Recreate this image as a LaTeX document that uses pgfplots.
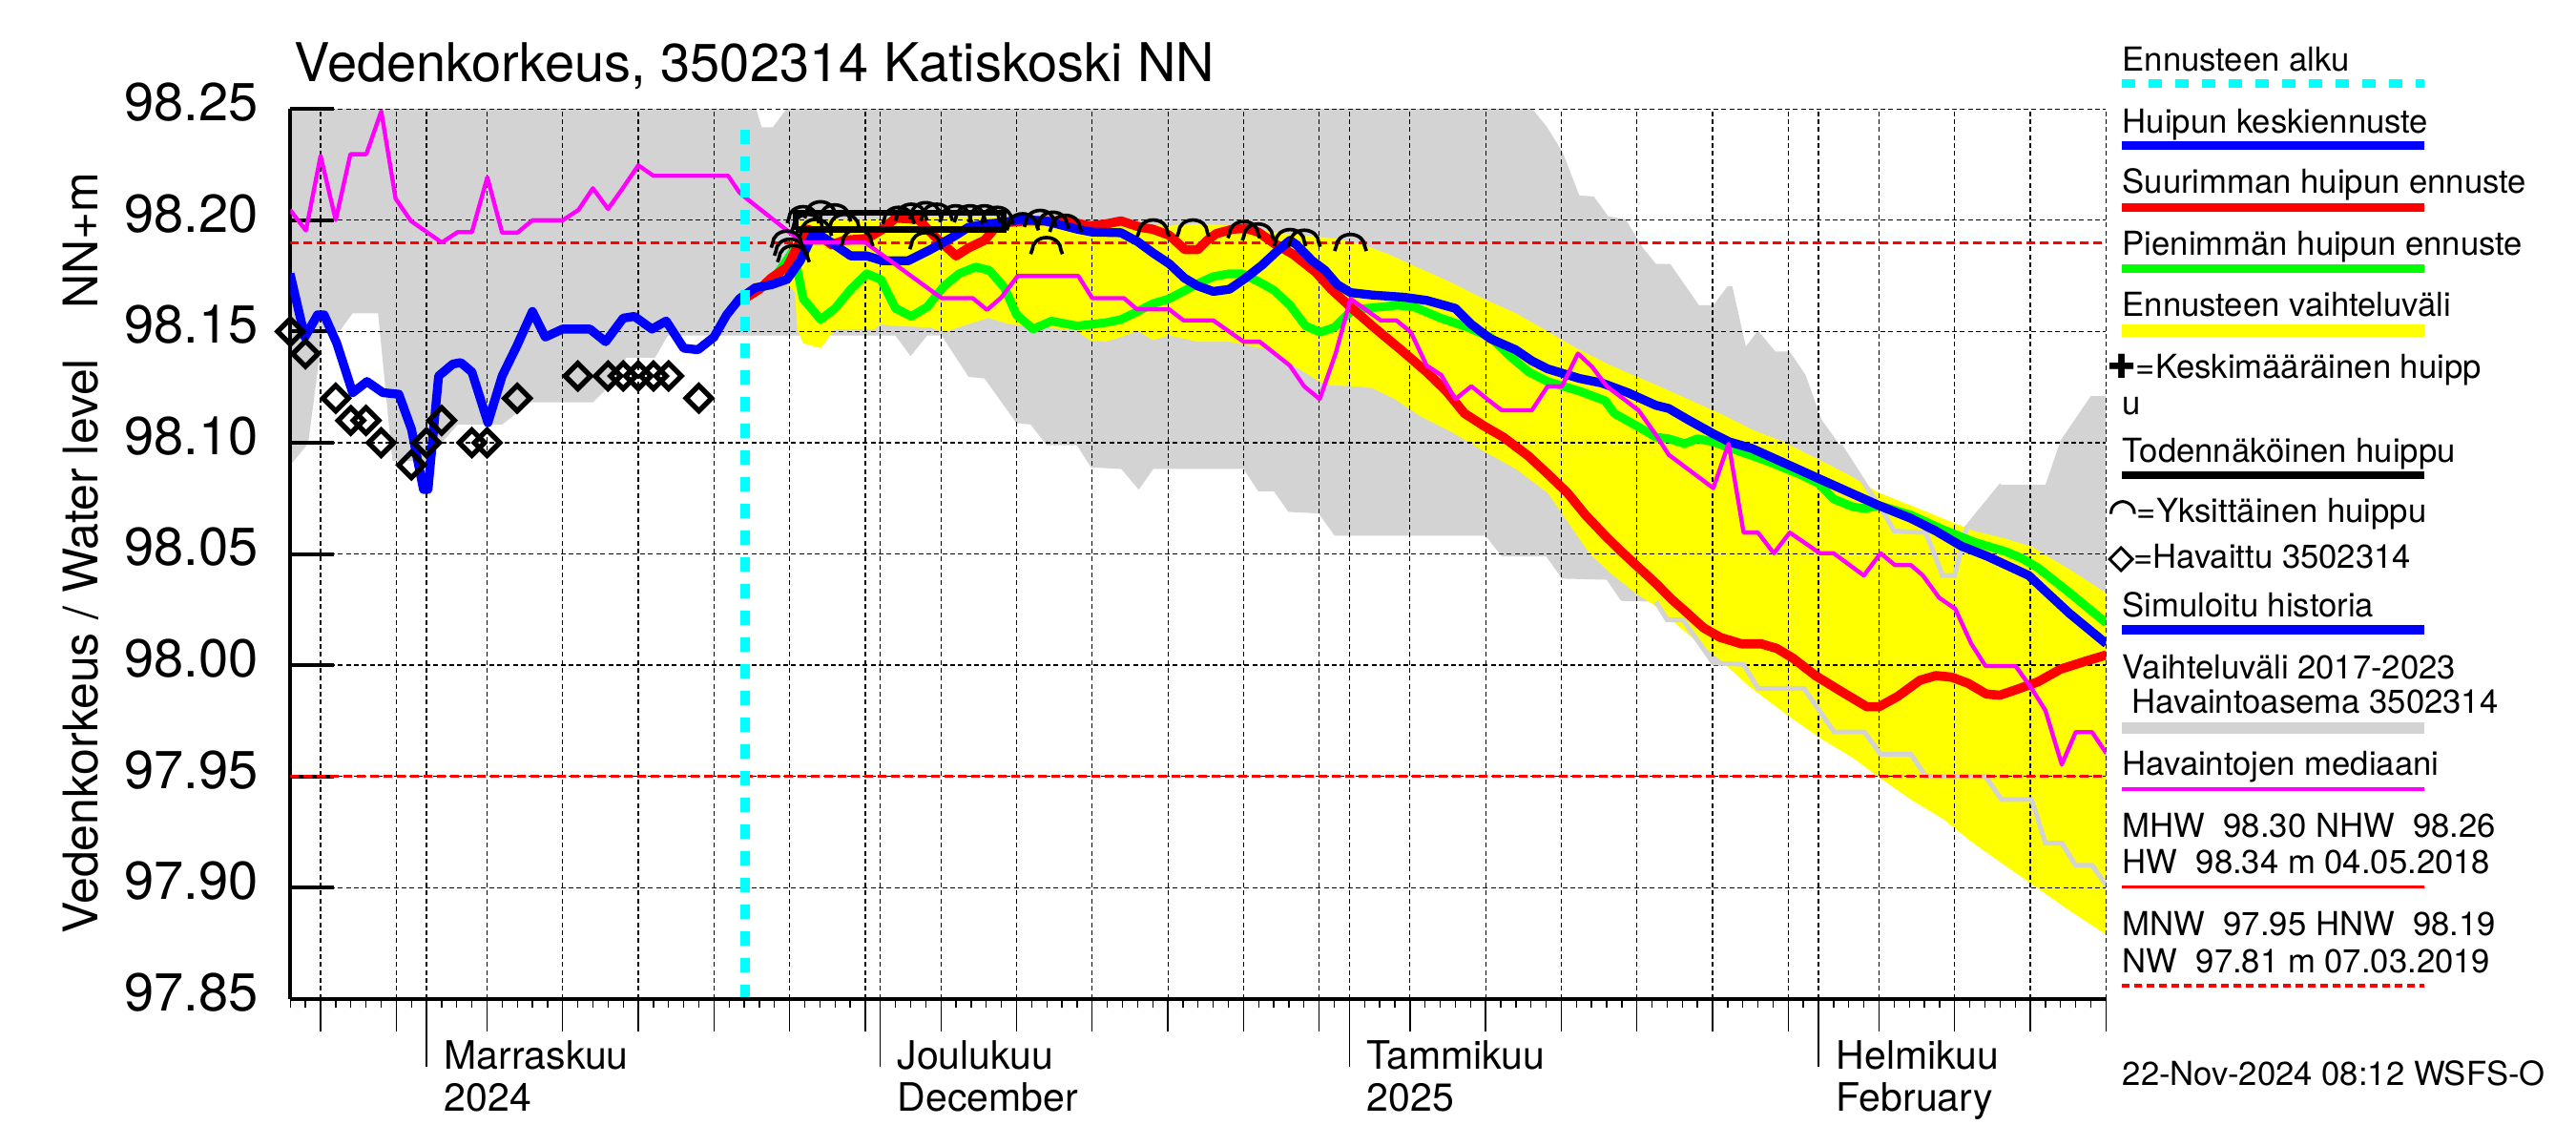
\documentclass[border=0pt]{standalone}
\usepackage{fontspec}
\setmainfont{TeX Gyre Heros}
\newfontfamily\symfont{DejaVu Sans}
\newfontfamily\symbold[FakeBold=3]{DejaVu Sans}
\usepackage{pgfplots}
\pgfplotsset{compat=1.18}
\definecolor{bandgrey}{RGB}{211,211,211}
\definecolor{pyellow}{RGB}{255,255,0}
\definecolor{pcyan}{RGB}{0,255,255}
\definecolor{pmagenta}{RGB}{255,0,255}
\definecolor{pgreen}{RGB}{0,255,0}
\definecolor{pred}{RGB}{255,0,0}
\definecolor{pblue}{RGB}{0,0,255}

% peak arc and observation diamond marks
\pgfdeclareplotmark{peakarc}{%
  \pgfpathmoveto{\pgfqpoint{-5.0pt}{-1.4pt}}%
  \pgfpathlineto{\pgfqpoint{-4.5pt}{0pt}}%
  \pgfpatharc{180}{0}{4.5pt and 3.8pt}%
  \pgfpathlineto{\pgfqpoint{5.0pt}{-1.4pt}}%
  \pgfusepathqstroke}
\pgfdeclareplotmark{obsdia}{%
  \pgfpathmoveto{\pgfqpoint{0pt}{4.0pt}}%
  \pgfpathlineto{\pgfqpoint{4.0pt}{0pt}}%
  \pgfpathlineto{\pgfqpoint{0pt}{-4.0pt}}%
  \pgfpathlineto{\pgfqpoint{-4.0pt}{0pt}}%
  \pgfpathclose
  \pgfusepathqstroke}

\newcommand{\legfont}{\fontsize{10.4}{12}\selectfont}
\newcommand{\monthfont}{\fontsize{12.3}{14}\selectfont}

\pgfplotsset{
  plotframe/.style={
    at={(91.29pt,45.99pt)}, anchor=south west,
    scale only axis, width=570.9pt, height=279.72pt,
    xmin=-9, xmax=111, ymin=97.85, ymax=98.25,
  },
  dayticks/.style={
    xtick={-7,-2,0,4,9,14,19,24,29,30,34,39,44,49,54,59,61,65,70,75,80,85,90,92,96,101,106,111},
    xticklabels={},
  },
}

\begin{document}
\begin{tikzpicture}
\path[use as bounding box] (0pt,0pt) rectangle (810pt,360pt);

% filled ranges (below the grid)
\begin{axis}[plotframe, hide axis]
% variation band 2017-2023
\addplot[fill=bandgrey, draw=none] coordinates {
(-9.5,98.27) (21.7,98.27) (21.8,98.25) (22.15,98.2418) (22.88,98.2418) (23.8,98.25) (23.9,98.27)
(73.0,98.27) (73.1,98.25) (74.07,98.2418) (75.1,98.2304) (76.2,98.2111) (77.15,98.2107)
(78.1,98.2018) (79.26,98.2004) (80.4,98.1875) (81.26,98.1804) (82.2,98.1804) (84.1,98.1618)
(85.05,98.1618) (86.0,98.1704) (86.3,98.1704) (87.2,98.1432) (88.0,98.1504) (89.15,98.141)
(90.1,98.141) (91.15,98.1304) (92.2,98.1104) (93.4,98.099) (95.15,98.0804) (96.4,98.0675)
(97.0,98.0603) (99.1,98.0596) (100.2,98.0403) (101.0,98.0403) (101.8,98.0618) (104.1,98.081)
(107.0,98.081) (108.0,98.101) (110.0,98.121) (111.5,98.121)
(111.5,97.9011) (111.03,97.9011) (110.08,97.91) (109.0,97.91) (108.08,97.92) (107.0,97.92)
(106.08,97.9396) (104.1,97.9396) (103.03,97.95) (99.1,97.95) (98.1,97.96) (96.1,97.96)
(95.04,97.9699) (93.04,97.9699) (91.04,97.9896) (88.0,97.9896) (87.05,98.0003) (85.05,98.001)
(83.05,98.0203) (82.0,98.0203) (81.26,98.0285) (78.95,98.0289) (78.0,98.0384) (75.05,98.0389)
(74.0,98.0489) (71.06,98.0489) (70.0,98.0582) (60.02,98.0582) (58.97,98.0682) (56.97,98.0689)
(56.0,98.0782) (54.97,98.0782) (54.0,98.0882) (48.03,98.0882) (47.08,98.0789) (45.92,98.0882)
(43.92,98.0889) (42.98,98.0989) (40.98,98.0989) (39.93,98.1082) (38.98,98.1089) (36.88,98.1289)
(35.83,98.1296) (34.04,98.1482) (33.09,98.1482) (32.0,98.1389) (30.99,98.1482) (15.95,98.1482)
(15.1,98.1382) (13.2,98.1382) (13.0,98.1346) (11.74,98.1232) (11.0,98.1182) (6.9,98.1182)
(5.0,98.1082) (2.06,98.1082) (-0.04,98.0918) (-2.25,98.0918) (-3.2,98.1582) (-4.88,98.1582)
(-5.72,98.1504) (-6.88,98.1489) (-7.82,98.0996) (-9.04,98.0896) (-9.5,98.0896)
};
% forecast range
\addplot[fill=pyellow, draw=none] coordinates {
(21.0,98.1655) (21.7,98.172) (22.8,98.174) (23.8,98.18) (24.3,98.195) (24.7,98.2005) (30,98.2005)
(31,98.2015) (38,98.2015) (42,98.2005) (44,98.199) (47,98.1985) (49,98.1975) (50.97,98.1983)
(54.1,98.1975) (56,98.1946) (60,98.1918) (61.9,98.189) (63.6,98.1847) (65.7,98.1782)
(67.8,98.1718) (69.9,98.1646) (72,98.1582) (74.1,98.15) (76.2,98.1417) (78.3,98.1346)
(81.26,98.126) (83.36,98.1196) (85.47,98.1132) (87.57,98.106) (89.67,98.1004) (91.78,98.0932)
(93.88,98.086) (95.98,98.0775) (98.1,98.0718) (100.2,98.066) (102.3,98.0603) (104.4,98.0568)
(106.1,98.0532) (108.6,98.043) (111.1,98.032)
(111.1,97.8785) (108.6,97.8896) (106.5,97.8996) (104.4,97.9096) (102.3,97.9196) (100.2,97.931)
(98.1,97.9396) (96.0,97.9496) (94.3,97.9582) (92.2,97.9668) (90.1,97.9768) (87.57,97.9896)
(85.47,98.0025) (83.36,98.014) (81.26,98.0264) (80.0,98.032) (78.3,98.041) (76.85,98.0503)
(74.1,98.0775) (72,98.0882) (69.9,98.0961) (67.8,98.1046) (65.7,98.1118) (64,98.1196)
(62.5,98.1246) (61.07,98.1254) (59.4,98.126) (57.3,98.1347) (55.5,98.142) (53.07,98.1454)
(51.0,98.1454) (49.1,98.1482) (48.0,98.1461) (47.0,98.1504) (45.9,98.1475) (44.9,98.1454)
(43.8,98.1461) (43.0,98.1504) (38.6,98.1532) (37.1,98.1561) (34.2,98.1497) (33.3,98.1518)
(30.99,98.1525) (30.0,98.1532) (29.6,98.151) (27.0,98.1511) (26.05,98.1425) (24.9,98.1447)
(24.5,98.151) (24.36,98.1675) (23.8,98.172) (22.8,98.1695) (21.0,98.1645)
};
\end{axis}

% grid, y axis and the curves
\begin{axis}[
  plotframe, dayticks,
  axis x line*=bottom, axis y line*=left,
  axis line style={line width=1.2pt, black},
  xtick style={draw=none},
  ytick align=inside, major tick length=13.8pt,
  ytick={97.85,97.9,97.95,98,98.05,98.1,98.15,98.2,98.25},
  ytick style={black, line width=1.2pt},
  grid=major,
  major grid style={black, line width=0.35pt, dash pattern=on 1.5pt off 1pt},
  scaled y ticks=false,
  yticklabel style={font=\fontsize{16.8}{20}\selectfont, anchor=east, inner sep=0pt,
    xshift=-9.9pt, yshift=2.1pt,
    /pgf/number format/.cd, fixed, fixed zerofill, precision=2, assume math mode=true},
]

% band edges drawn over the forecast range
\addplot[bandgrey, line width=1.5pt] coordinates {
(81.26,98.0285) (82.0,98.0203) (83.05,98.0203) (85.05,98.001) (87.05,98.0003) (88.0,97.9896)
(91.04,97.9896) (93.04,97.9699) (95.04,97.9699) (96.1,97.96) (98.1,97.96) (99.1,97.95)
(103.03,97.95) (104.1,97.9396) (106.08,97.9396) (107.0,97.92) (108.08,97.92) (109.0,97.91)
(110.08,97.91) (111.03,97.9011)
};
\addplot[bandgrey, line width=1.5pt] coordinates {
(93.4,98.099) (95.15,98.0804) (96.4,98.0675) (97.0,98.0603) (99.1,98.0596) (100.2,98.0403)
(101.0,98.0403) (101.8,98.0618) (104.1,98.081)
};

% HNW and MNW
\addplot[pred, line width=1pt, dash pattern=on 2.7pt off 1.5pt] coordinates {(-9,98.19) (111,98.19)};
\addplot[pred, line width=1pt, dash pattern=on 2.7pt off 1.5pt] coordinates {(-9,97.95) (111,97.95)};

% smallest peak forecast
\addplot[pgreen, line width=2.7pt, line join=round] coordinates {
(21.0,98.1645) (22.0,98.169) (22.78,98.172) (23.6,98.18) (24.2,98.186) (24.5,98.178) (24.9,98.1647)
(26.05,98.1554) (27.0,98.1604) (28.04,98.169) (29.1,98.176) (30.04,98.1733) (31.0,98.1604)
(32.04,98.1568) (33.1,98.1611) (34.2,98.1704) (35.2,98.176) (36.3,98.179) (37.2,98.1775)
(38.2,98.1697) (39.0,98.1575) (40.1,98.1511) (41.3,98.1547) (43.0,98.1525) (44.9,98.154)
(45.9,98.1554) (47.0,98.159) (48.0,98.1625) (49.08,98.1647) (50.97,98.1715) (52.0,98.1747)
(53.07,98.176) (53.9,98.176) (54.97,98.1725) (56.0,98.1686) (57.07,98.1618) (58.1,98.1525)
(59.07,98.1497) (60.0,98.1518) (61.07,98.159) (62.1,98.1604) (64.2,98.1618) (65.3,98.161)
(67.0,98.1561) (68.85,98.1518) (70.3,98.1475) (71.6,98.139) (72.85,98.1318) (74.1,98.1275)
(76.2,98.1232) (77.9,98.1189) (78.5,98.1132) (80.0,98.1075) (81.26,98.1025) (82.1,98.1018)
(83.15,98.0996) (84.0,98.1018) (85.05,98.1004) (86.5,98.0968) (88.6,98.0918) (90.7,98.086)
(91.99,98.0818) (93.0,98.0747) (94.3,98.0711) (95.1,98.0704) (96.0,98.0718) (98.1,98.0675)
(100.2,98.061) (102.3,98.0553) (104.4,98.051) (105.45,98.048) (106.5,98.0438) (108.6,98.0325)
(111.03,98.0189)
};

% largest peak forecast
\addplot[pred, line width=2.9pt, line join=round] coordinates {
(21.0,98.1647) (22.0,98.169) (22.78,98.174) (23.84,98.179) (24.57,98.189) (25.2,98.196) (26.0,98.193)
(26.78,98.189) (27.6,98.191) (29.1,98.1918) (30.15,98.196) (31.0,98.201) (32.5,98.2004)
(33.5,98.1933) (35.0,98.184) (35.8,98.1875) (36.88,98.191) (37.5,98.196) (38.35,98.199)
(39.6,98.1997) (41.7,98.1997) (42.8,98.199) (43.8,98.1975) (44.87,98.1983) (45.9,98.1997)
(47.2,98.1968) (48.0,98.196) (49.08,98.1933) (50.13,98.1868) (50.97,98.1868) (51.6,98.191)
(52.2,98.194) (53.3,98.196) (54.13,98.1964) (54.97,98.1947) (56.0,98.1897) (57.28,98.1847)
(58.75,98.1768) (59.8,98.169) (61.07,98.161) (62.75,98.1511) (64.4,98.1418) (66.1,98.1318)
(67.4,98.1232) (68.6,98.1132) (69.9,98.1075) (71.17,98.1025) (72.85,98.0939) (74.1,98.086)
(75.4,98.0775) (76.6,98.0675) (77.9,98.0582) (78.9,98.0515) (81.26,98.0367) (82.3,98.0296)
(83.36,98.0232) (84.4,98.0168) (85.5,98.0125) (86.9,98.0096) (88.2,98.0096) (89.25,98.0075)
(90.3,98.0032) (91.8,97.9953) (93.5,97.9882) (95.2,97.9813) (96.0,97.9813) (97.25,97.986)
(98.7,97.9932) (99.76,97.9953) (100.8,97.9946) (101.9,97.9918) (103.1,97.987) (103.98,97.9865)
(105.03,97.9889) (106.5,97.9925) (108.0,97.9982) (109.66,98.0018) (111.03,98.0046)
};

% simulated history and mean peak forecast
\addplot[pblue, line width=2.8pt, line join=round] coordinates {
(-9.02,98.176) (-8.04,98.1475) (-7.2,98.1575) (-6.77,98.1575) (-5.93,98.1447) (-4.88,98.1225)
(-3.93,98.1275) (-2.88,98.1225) (-1.83,98.1218) (-0.99,98.106) (-0.2,98.079) (0.1,98.079)
(0.8,98.130) (1.75,98.1354) (2.27,98.136) (3.0,98.1318) (4.06,98.109) (5.0,98.130)
(5.95,98.1432) (7.0,98.159) (7.85,98.1475) (9.0,98.1511) (10.8,98.1511) (11.84,98.1454)
(13.0,98.156) (13.74,98.1568) (14.9,98.1511) (15.84,98.1547) (17.0,98.1425) (17.94,98.1418)
(19.0,98.1475) (19.84,98.1575) (20.68,98.1647) (21.73,98.1697) (22.78,98.171) (23.84,98.1735)
(24.7,98.1818) (25.52,98.1933) (26.2,98.1925) (26.99,98.1889) (28.04,98.184) (29.1,98.184)
(30.15,98.1818) (31.83,98.1818) (33.3,98.1868) (35.0,98.1933) (35.8,98.1968) (36.88,98.1983)
(38.14,98.199) (39.2,98.2004) (40.87,98.1997) (41.7,98.1983) (43.0,98.196) (44.0,98.1947)
(45.9,98.1944) (47.0,98.1904) (48.0,98.1854) (49.1,98.1804) (50.1,98.174) (50.97,98.1705)
(52.0,98.168) (53.07,98.169) (54.13,98.174) (55.2,98.1797) (56.2,98.186) (57.07,98.191)
(57.5,98.189) (58.54,98.1818) (59.39,98.1775) (60.2,98.1711) (61.07,98.1675) (62.5,98.1664)
(64.6,98.1654) (66.1,98.164) (68.0,98.1604) (69.06,98.1532) (70.3,98.1468) (71.98,98.1418)
(73.06,98.1368) (74.1,98.1332) (76.2,98.1289) (77.7,98.1268) (79.4,98.1225) (81.26,98.1168)
(82.1,98.1154) (83.36,98.1104) (85.05,98.104) (86.1,98.1004) (87.57,98.0975) (89.67,98.0911)
(91.78,98.0846) (93.88,98.0782) (95.98,98.0718) (98.1,98.066) (99.76,98.0603) (101.45,98.0535)
(103.14,98.049) (105.9,98.0403) (106.9,98.0339) (108.6,98.0232) (111.03,98.0096)
};

% median of observations
\addplot[pmagenta, line width=1.3pt, line join=round] coordinates {
(-9.02,98.2047) (-7.97,98.1954) (-7.0,98.229) (-6.0,98.2001) (-5.03,98.2297) (-3.98,98.2297)
(-2.99,98.249) (-2.04,98.2097) (-1.03,98.1997) (1.01,98.190) (2.06,98.1947) (3.0,98.1947)
(4.02,98.2193) (5.0,98.1944) (6.0,98.1944) (7.0,98.2) (9.0,98.2) (10.05,98.2047) (11.0,98.2144)
(12.0,98.2051) (13.0,98.2147) (14.0,98.2247) (15.0,98.22) (19.94,98.22) (20.68,98.2125)
(21.3,98.209) (23.84,98.1954) (24.9,98.19) (29.0,98.19) (34.04,98.165) (36.1,98.165)
(37.05,98.1597) (38.0,98.1654) (39.08,98.175) (43.08,98.175) (44.0,98.165) (46.1,98.165)
(46.95,98.16) (49.08,98.16) (50.03,98.155) (52.0,98.155) (54.0,98.1454) (55.07,98.1454)
(56.0,98.1404) (57.06,98.1347) (58.0,98.1254) (59.03,98.1196) (60.1,98.1404) (61.07,98.1647)
(62.1,98.1597) (63.07,98.155) (64.1,98.155) (65.06,98.1497) (66.1,98.1347) (67.07,98.1304)
(68.0,98.1196) (69.06,98.1254) (70.1,98.1196) (71.06,98.1146) (73.06,98.1146) (74.1,98.1254)
(75.05,98.1254) (76.1,98.1401) (77.05,98.134) (78.0,98.1254) (80.1,98.1146) (81.26,98.1035)
(82.1,98.0946) (85.05,98.0796) (86.06,98.0996) (87.05,98.0596) (88.0,98.0596) (89.05,98.0503)
(90.1,98.0596) (92.1,98.0503) (93.0,98.0503) (95.0,98.0403) (96.1,98.0503) (97.05,98.045)
(98.1,98.045) (98.9,98.0403) (99.98,98.0303) (101.04,98.0253) (102.1,98.0096) (103.04,97.9996)
(105.03,97.9996) (106.08,97.9896) (107.0,97.9796) (108.08,97.9553) (109.0,97.9699)
(110.08,97.9699) (111.03,97.9603)
};

% forecast start
\addplot[pcyan, line width=3pt, dash pattern=on 4.5pt off 3.9pt] coordinates {(21.05,97.85) (21.05,98.245)};

% probable peak
\addplot[black, line width=2pt] coordinates {
(24.4,98.1958) (38.15,98.1958) (38.15,98.2033) (24.4,98.2033) (24.4,98.1958)
};

% individual peaks
\addplot[only marks, mark=peakarc, mark options={black, line width=1.1pt}] coordinates {
(23.83,98.1897) (24.04,98.1861) (24.25,98.1832) (24.89,98.2007) (25.2,98.1972) (25.73,98.195)
(26.04,98.2029) (26.99,98.2015) (27.62,98.1972) (28.46,98.1904) (31.2,98.2004) (32.04,98.2018)
(32.99,98.2025) (33.72,98.2018) (32.99,98.189) (34.98,98.2011) (35.93,98.2011) (36.88,98.2011)
(37.72,98.2004) (39.4,98.1975) (40.56,98.199) (41.4,98.1982) (42.24,98.1968) (40.98,98.1868)
(48.03,98.1947) (50.66,98.1947) (54.02,98.194) (54.97,98.1929) (57.07,98.1904) (58.02,98.1901)
(61.07,98.1882)
};

% observed
\addplot[only marks, mark=obsdia, mark options={black, line width=1.6pt}] coordinates {
(-9,98.15) (-8,98.14) (-6,98.12) (-5,98.11) (-4,98.11) (-3,98.10) (-1,98.09) (0,98.10) (1,98.11)
(3,98.10) (4,98.10) (6,98.12) (10,98.13) (12,98.13) (13,98.13) (14,98.13) (15,98.13) (16,98.13)
(18,98.12)
};
\end{axis}

% date ticks below the axis
\begin{axis}[
  plotframe, dayticks,
  axis x line*=bottom, hide y axis,
  axis line style={line width=1.2pt, black},
  minor xtick={-9,-8,...,111},
  xtick align=outside,
  major tick length=10.2pt, minor tick length=2.9pt,
  xtick style={black, line width=0.4pt},
]
\addplot[draw=none] coordinates {(0,98) (10,98.1)};
\end{axis}
\begin{axis}[
  plotframe,
  axis x line*=bottom, hide y axis,
  axis line style={draw=none},
  xtick={0,30,61,92}, xticklabels={},
  xtick align=outside,
  major tick length=21.3pt,
  xtick style={black, line width=0.4pt},
]
\addplot[draw=none] coordinates {(0,98) (10,98.1)};
\end{axis}

% title and axis label
\begin{scope}[x=0.3pt,y=0.3pt]
\node[anchor=base west, inner sep=0pt, font=\fontsize{16.8}{20}\selectfont] at (308,1114) {Vedenkorkeus, 3502314 Katiskoski NN};
\node[rotate=90, anchor=base west, inner sep=0pt, font=\fontsize{15}{18}\selectfont] at (102,221) {Vedenkorkeus / Water level};
\node[rotate=90, anchor=base east, inner sep=0pt, font=\fontsize{15}{18}\selectfont] at (102,1020) {NN+m};

% month labels
\begin{scope}[every node/.style={anchor=base west, inner sep=0pt, font=\monthfont}]
\node at (465,79.5) {Marraskuu}; \node at (465,35.5) {2024};
\node at (940,79.5) {Joulukuu}; \node at (940,35.5) {December};
\node at (1432,79.5) {Tammikuu}; \node at (1432,35.5) {2025};
\node at (1924,79.5) {Helmikuu}; \node at (1924,35.5) {February};
\end{scope}

% legend
\begin{scope}[every node/.style={anchor=base west, inner sep=0pt, font=\legfont}]
\node at (2224,1125.4) {Ennusteen alku};
\draw[pcyan, line width=2.7pt, dash pattern=on 4.2pt off 4.2pt] (2224,1112) -- (2541,1112);
\node at (2224,1060.3) {Huipun keskiennuste};
\draw[pblue, line width=2.7pt] (2224,1047) -- (2541,1047);
\node at (2224,997.2) {Suurimman huipun ennuste};
\draw[pred, line width=2.7pt] (2224,982) -- (2541,982);
\node at (2224,932) {Pienimmän huipun ennuste};
\draw[pgreen, line width=2.7pt] (2224,918) -- (2541,918);
\node at (2224,868) {Ennusteen vaihteluväli};
\draw[pyellow, line width=3.9pt] (2224,853.5) -- (2541,853.5);
\node at (2209,804) {{\symfont ✚}=Keskimääräinen huipp};
\node at (2224,766) {u};
\node at (2224,716) {Todennäköinen huippu};
\draw[black, line width=2.4pt] (2224,702) -- (2541,702);
\node at (2209,653) {{\symbold ◠}=Yksittäinen huippu};
\node at (2209,605) {{\symbold ◇}=Havaittu 3502314};
\node at (2224,554) {Simuloitu historia};
\draw[pblue, line width=3pt] (2224,540) -- (2541,540);
\node at (2224,489) {Vaihteluväli 2017-2023};
\node at (2234,452.7) {Havaintoasema 3502314};
\draw[bandgrey, line width=3.8pt] (2224,437) -- (2541,437);
\node at (2224,387.6) {Havaintojen mediaani};
\draw[pmagenta, line width=1.4pt] (2224,373) -- (2541,373);
\node at (2224,322.5) {MHW\ \ 98.30 NHW\ \ 98.26};
\node at (2224,284.3) {HW\ \ 98.34 m 04.05.2018};
\draw[pred, line width=0.9pt] (2224,270.5) -- (2541,270.5);
\node at (2224,219.2) {MNW\ \ 97.95 HNW\ \ 98.19};
\node at (2224,181) {NW\ \ 97.81 m 07.03.2019};
\draw[pred, line width=1pt, dash pattern=on 2.4pt off 1.5pt] (2224,167) -- (2541,167);
\node at (2224,62.3) {22-Nov-2024 08:12 WSFS-O};
\end{scope}
\end{scope}
\end{tikzpicture}
\end{document}
